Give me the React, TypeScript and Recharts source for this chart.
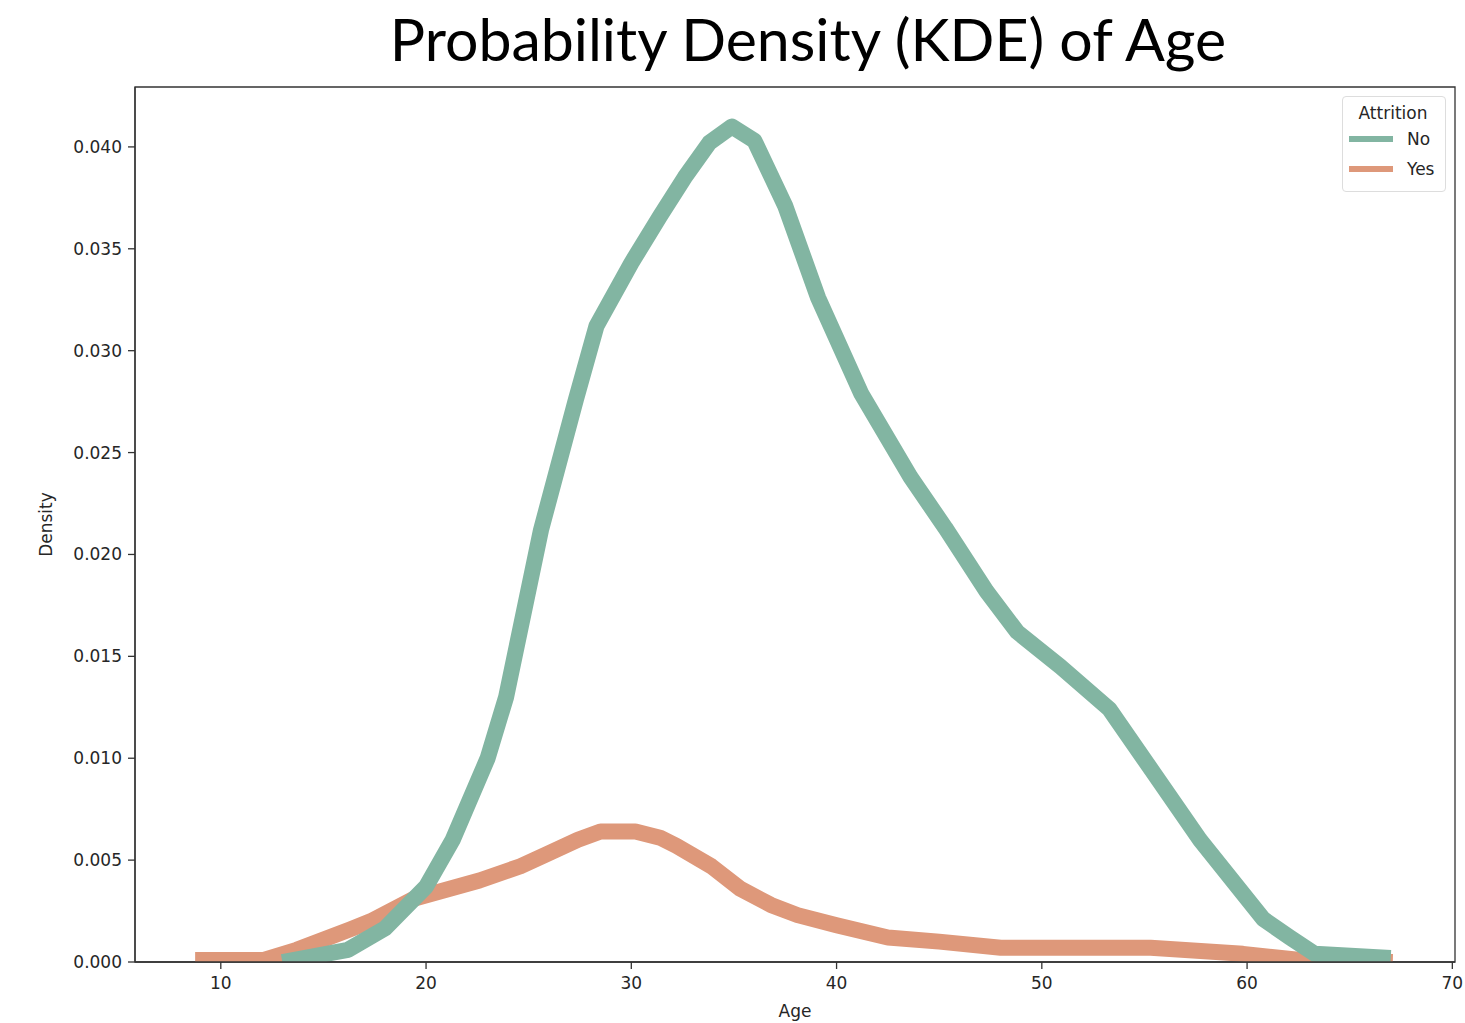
import { LineChart, Line, XAxis, YAxis, Legend, ReferenceArea } from 'recharts';

// KDE curves (age, density)
const noAges = [13.0, 16.2, 18.0, 20.0, 21.3, 23.0, 23.9, 25.6, 27.3, 28.3, 30.0, 31.4, 32.6, 33.8, 34.9, 36.0, 37.5, 39.1, 41.2, 43.6, 45.3, 47.3, 48.8, 50.9, 53.3, 55.5, 57.7, 60.8, 62.1, 63.3, 67.0];
const noDensity = [0.0, 0.0006, 0.00165, 0.0037, 0.006, 0.01, 0.013, 0.0212, 0.0276, 0.0312, 0.0343, 0.0366, 0.0385, 0.0402, 0.041, 0.0403, 0.0371, 0.0326, 0.0279, 0.0238, 0.0213, 0.0182, 0.0162, 0.0145, 0.0124, 0.0092, 0.006, 0.0021, 0.0012, 0.0004, 0.0002];

const yesAges = [8.75, 12.1, 13.7, 16.3, 17.3, 19.4, 22.6, 24.6, 25.9, 27.4, 28.5, 30.2, 31.4, 32.2, 33.9, 35.3, 36.8, 38.1, 40.0, 42.5, 45.0, 48.0, 55.3, 59.8, 62.6, 67.1];
const yesDensity = [0.0001, 0.0001, 0.0006, 0.0016, 0.002, 0.0031, 0.004, 0.0047, 0.0053, 0.006, 0.0064, 0.0064, 0.0061, 0.0057, 0.0047, 0.0036, 0.0028, 0.0023, 0.0018, 0.0012, 0.001, 0.0007, 0.0007, 0.0004, 0.0001, 0.0];

const xTicks = [10, 20, 30, 40, 50, 60, 70];
const yTicks = [0, 0.005, 0.01, 0.015, 0.02, 0.025, 0.03, 0.035, 0.04];
const xDomain: [number, number] = [5.82, 70.13];
const yDomain: [number, number] = [0, 0.04294];

const noData = noAges.map((age, i) => ({ age, density: noDensity[i] }));
const yesData = yesAges.map((age, i) => ({ age, density: yesDensity[i] }));

const GREEN = '#82b5a2';
const ORANGE = '#de987a';
const AXIS = '#333333';
const tickFont = { fontFamily: 'DejaVu Sans', fontSize: 17, fill: '#262626' };

function AttritionLegend() {
  const row = (color: string, label: string) => (
    <div style={{ display: 'flex', alignItems: 'center', height: 30 }}>
      <div style={{ width: 44, height: 6, background: color, marginRight: 14 }} />
      <span>{label}</span>
    </div>
  );
  return (
    <div
      style={{
        border: '1px solid #dddddd',
        borderRadius: 4,
        background: 'rgba(255,255,255,0.8)',
        padding: '6px 8px 7px 6px',
        fontFamily: 'DejaVu Sans',
        fontSize: 17,
        color: '#262626',
        width: 88,
      }}
    >
      <div style={{ textAlign: 'center', marginBottom: 1 }}>Attrition</div>
      {row(GREEN, 'No')}
      {row(ORANGE, 'Yes')}
    </div>
  );
}

export default function App() {
  return (
    <div style={{ position: 'absolute', left: 0, top: 0, width: 1465, height: 1023, background: '#fff' }}>
      <div
        style={{
          position: 'absolute',
          top: 2,
          left: 0,
          width: 1616,
          textAlign: 'center',
          fontFamily: 'Lato',
          fontSize: 59,
          color: '#000',
          lineHeight: '74px',
        }}
      >
        Probability Density (KDE) of Age
      </div>
      <LineChart width={1465} height={1023} margin={{ top: 87, right: 10, bottom: 0, left: 0 }}>
        <XAxis
          dataKey="age"
          type="number"
          domain={xDomain}
          allowDataOverflow
          ticks={xTicks}
          stroke={AXIS}
          strokeWidth={1.3}
          tickSize={7}
          tickMargin={8}
          tick={tickFont}
          height={61}
          label={{ value: 'Age', position: 'insideBottom', offset: 6, style: tickFont }}
        />
        <YAxis
          type="number"
          domain={yDomain}
          allowDataOverflow
          ticks={yTicks}
          tickFormatter={(v: number) => v.toFixed(3)}
          stroke={AXIS}
          strokeWidth={1.3}
          tickSize={7}
          tickMargin={6}
          tick={tickFont}
          width={135}
          label={({ viewBox }: any) => {
            const cx = viewBox.x + 46;
            const cy = viewBox.y + viewBox.height / 2;
            return (
              <text x={cx} y={cy} transform={`rotate(-90 ${cx} ${cy})`} textAnchor="middle" dominantBaseline="central" {...tickFont}>
                Density
              </text>
            );
          }}
        />
        {/* axes frame (top and right spines) */}
        <ReferenceArea
          x1={xDomain[0]}
          x2={xDomain[1]}
          y1={yDomain[0]}
          y2={yDomain[1]}
          fill="none"
          fillOpacity={0}
          stroke={AXIS}
          strokeWidth={1.3}
          ifOverflow="visible"
        />
        <Legend
          layout="vertical"
          verticalAlign="middle"
          align="center"
          content={() => <AttritionLegend />}
          wrapperStyle={{ top: 96, left: 1342, width: 'auto', height: 'auto' }}
        />
        <Line
          data={yesData}
          dataKey="density"
          name="Yes"
          stroke={ORANGE}
          strokeWidth={16}
          strokeLinecap="butt"
          strokeLinejoin="round"
          dot={false}
          type="linear"
          isAnimationActive={false}
        />
        <Line
          data={noData}
          dataKey="density"
          name="No"
          stroke={GREEN}
          strokeWidth={16}
          strokeLinecap="butt"
          strokeLinejoin="round"
          dot={false}
          type="linear"
          isAnimationActive={false}
        />
      </LineChart>
    </div>
  );
}
